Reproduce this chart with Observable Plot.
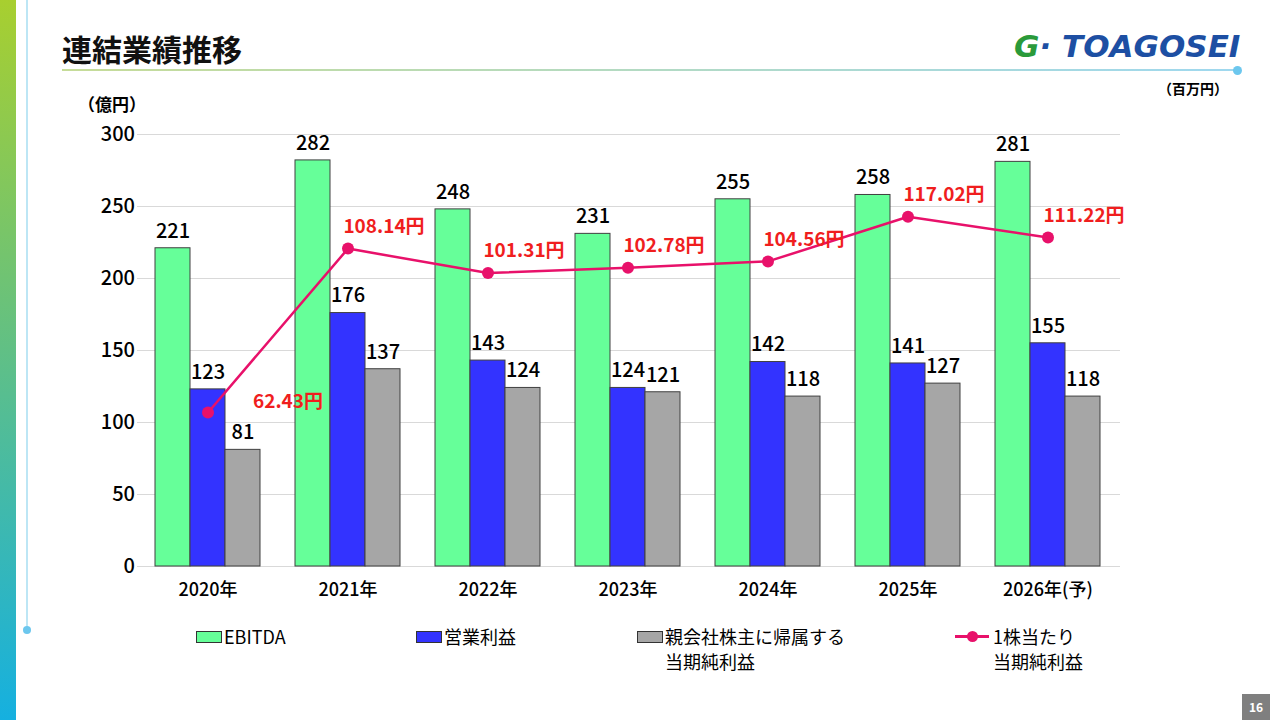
<!DOCTYPE html>
<html><head><meta charset="utf-8">
<script src="https://cdn.jsdelivr.net/npm/d3@7"></script>
<script src="https://cdn.jsdelivr.net/npm/@observablehq/plot@0.6"></script>
<style>
body{margin:0;width:1280px;height:720px;position:relative;background:#fff;font-family:"Noto Sans CJK JP",sans-serif;overflow:hidden}
.abs{position:absolute}
#chart{position:absolute;left:0;top:0}
.leg{position:absolute;top:624px;font-size:18px;line-height:25px;color:#000}
.sw{position:absolute;width:24px;height:10px;border:1px solid #333;top:7px;left:-28px}
</style></head><body>
<div class="abs" style="left:0;top:0;width:16px;height:720px;background:linear-gradient(#a8cf2f,#15b0e0)"></div>
<div class="abs" style="left:26px;top:0;width:2px;height:630px;background:#bde6f5"></div>
<div class="abs" style="left:23px;top:626px;width:8px;height:8px;border-radius:50%;background:#6cc7ee"></div>
<div class="abs" style="left:62px;top:26px;font-size:30px;font-weight:700;color:#111">連結業績推移</div>
<div class="abs" style="left:62px;top:69px;width:1174px;height:2px;background:linear-gradient(90deg,#c6dc98,#9fd8ef)"></div>
<div class="abs" style="left:1233px;top:66px;width:9px;height:9px;border-radius:50%;background:#6cc7ee"></div>
<div class="abs" style="left:1014px;top:28px;font-size:31px;font-weight:700;font-style:italic;color:#1d4fa3;font-family:'DejaVu Sans',sans-serif"><span style="color:#2a9a3a">G</span>· TOAGOSEI</div>
<div class="abs" style="left:1158px;top:78px;font-size:14px;font-weight:700">（百万円）</div>
<div class="abs" style="left:78px;top:91px;font-size:17px;font-weight:700">（億円）</div>
<div class="abs" style="left:1242px;top:694px;width:28px;height:26px;background:#7f7f7f;color:#fff;font-size:12px;font-weight:700;text-align:center;line-height:26px">16</div>
<div id="chart"></div>
<div class="leg" style="left:224px"><span class="sw" style="background:#66ff99"></span>EBITDA</div>
<div class="leg" style="left:444px"><span class="sw" style="background:#3333ff"></span>営業利益</div>
<div class="leg" style="left:665px"><span class="sw" style="background:#a6a6a6"></span>親会社株主に帰属する<br>当期純利益</div>
<div class="leg" style="left:993px"><span class="abs" style="left:-38px;top:11px;width:34px;height:3px;background:#e8116a"></span><span class="abs" style="left:-26px;top:7px;width:11px;height:11px;border-radius:50%;background:#e8116a"></span>1株当たり<br>当期純利益</div>
<script>
const years = ["2020年","2021年","2022年","2023年","2024年","2025年","2026年(予)"];
const ebitda = [221,282,248,231,255,258,281];
const opProfit = [123,176,143,124,142,141,155];
const netProfit = [81,137,124,121,118,127,118];
const eps = [62.43,108.14,101.31,102.78,104.56,117.02,111.22];
const series = ["EBITDA","営業利益","純利益"];
const colors = ["#66ff99","#3333ff","#a6a6a6"];
const yTicks = [0,50,100,150,200,250,300];

const epsToLeft = v => 2.49*v - 48.5;
const key = (y,s)=>y+"|"+s;
const domain = [];
years.forEach((y,i)=>{series.forEach(s=>domain.push(key(y,s))); if(i<years.length-1) domain.push(key(y,"gap"));});
const bars = [];
years.forEach((y,i)=>{[ebitda,opProfit,netProfit].forEach((arr,j)=>bars.push({k:key(y,series[j]),s:series[j],v:arr[i]}));});
const epsData = years.map((y,i)=>({k:key(y,"営業利益"),v:epsToLeft(eps[i]),lab:eps[i].toFixed(2)+"円",first:i===0}));
const font = "Noto Sans CJK JP";
const plot = Plot.plot({
  width:1280,height:720,marginLeft:134,marginRight:160,marginTop:134,marginBottom:154,
  style:{fontFamily:font,background:"transparent"},
  x:{type:"band",domain,paddingInner:0,paddingOuter:0.5,axis:null},
  y:{domain:[0,300],axis:null},
  color:{domain:series,range:colors},
  marks:[
    Plot.ruleY(yTicks,{x1:()=>domain[0],x2:()=>domain[domain.length-1],insetLeft:-18,insetRight:-20,stroke:"#d9d9d9"}),
    Plot.text(yTicks,{x:()=>domain[0],y:d=>d,text:d=>String(d),textAnchor:"end",dx:-38,fontSize:20,fontWeight:500,fill:"#000"}),
    Plot.barY(bars,{x:"k",y:"v",fill:"s",stroke:"#404040",strokeWidth:1,inset:0}),
    Plot.text(bars,{x:"k",y:"v",text:d=>String(d.v),dy:-17,fontSize:20,fontWeight:500,fill:"#000"}),
    Plot.text(years,{x:y=>key(y,"営業利益"),y:0,text:d=>d,dy:24,fontSize:18,fontWeight:500,fill:"#000"}),
    Plot.line(epsData,{x:"k",y:"v",stroke:"#e8116a",strokeWidth:2.5}),
    Plot.dot(epsData,{x:"k",y:"v",r:6,fill:"#e8116a"}),
    Plot.text(epsData.filter(d=>d.first),{x:"k",y:"v",text:"lab",dx:80,dy:-11,fontSize:19,fontWeight:700,fill:"#f01e1e"}),
    Plot.text(epsData.filter(d=>!d.first),{x:"k",y:"v",text:"lab",dx:36,dy:-22,fontSize:19,fontWeight:700,fill:"#f01e1e"})
  ]
});
document.getElementById("chart").appendChild(plot);
</script>
</body></html>
